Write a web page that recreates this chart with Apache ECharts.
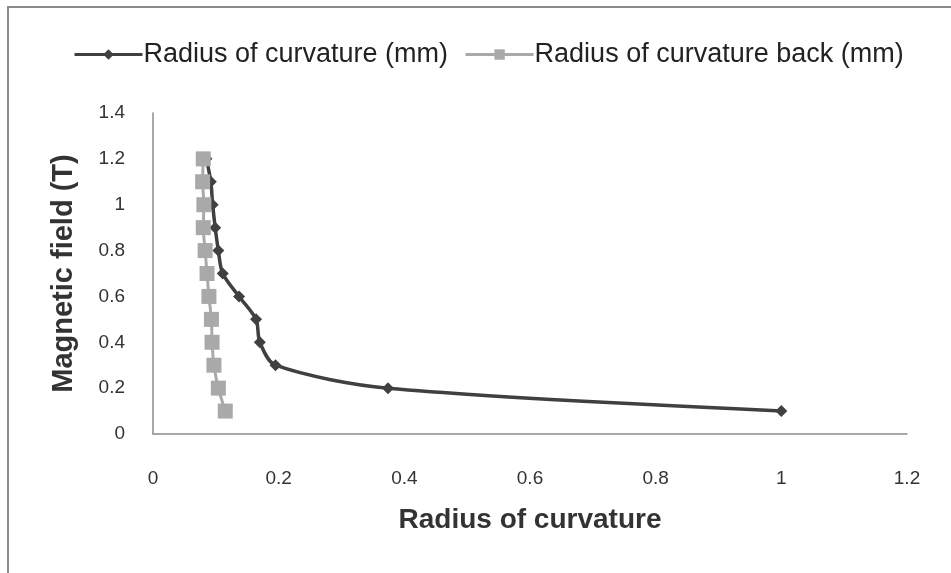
<!DOCTYPE html>
<html>
<head>
<meta charset="utf-8">
<script src="https://cdn.jsdelivr.net/npm/echarts@6/dist/echarts.min.js"></script>
<style>
    html, body { margin: 0; padding: 0; background: #fff; }
    #frame {
        position: absolute; left: 7px; top: 6px; width: 950px; height: 565px;
        border-left: 2px solid #8a8a8a; border-top: 2px solid #8a8a8a; border-bottom: 2px solid #8a8a8a;
    }
    #chart { position: absolute; left: 0; top: 0; width: 951px; height: 573px; }
</style>
</head>
<body>
<div id="frame"></div>
<div id="chart"></div>
<script>
    // magnetic field (T) on the y axis
    var fieldT = [0.1, 0.2, 0.3, 0.4, 0.5, 0.6, 0.7, 0.8, 0.9, 1.0, 1.1, 1.2];
    // radius of curvature (mm) on the x axis
    var radius = [1.0, 0.374, 0.195, 0.170, 0.164, 0.137, 0.111, 0.104, 0.099, 0.095, 0.092, 0.085];
    var radiusBack = [0.115, 0.104, 0.097, 0.094, 0.093, 0.089, 0.086, 0.083, 0.080, 0.081, 0.079, 0.080];
    var seriesNames = ["Radius of curvature (mm)", "Radius of curvature back (mm)"];

    function pairs(xs, ys) {
        var out = [];
        for (var i = 0; i < xs.length; i++) {
            out.push([xs[i], ys[i]]);
        }
        return out;
    }

    var font = "'Liberation Sans', sans-serif";
    var chart = echarts.init(document.getElementById("chart"));
    chart.setOption({
        animation: false,
        textStyle: { fontFamily: font },
        legend: {
            top: 36,
            left: 68,
            itemWidth: 68,
            itemHeight: 13,
            itemGap: 16,
            lineStyle: { width: 3 },
            textStyle: { fontSize: 27, color: "#222", fontFamily: font, padding: [0, 0, 0, -4] },
            data: seriesNames
        },
        grid: { left: 153, right: 44, top: 113, bottom: 139 },
        xAxis: {
            type: "value",
            min: 0, max: 1.2, interval: 0.2,
            name: "Radius of curvature",
            nameLocation: "middle",
            nameGap: 72,
            nameTextStyle: { fontSize: 28, fontWeight: "bold", color: "#333", fontFamily: font },
            axisLine: { show: true, lineStyle: { color: "#8c8c8c", width: 1.5 } },
            axisTick: { show: false },
            splitLine: { show: false },
            axisLabel: { fontSize: 19, color: "#333", margin: 35 }
        },
        yAxis: {
            type: "value",
            min: 0, max: 1.4, interval: 0.2,
            name: "Magnetic field (T)",
            nameLocation: "middle",
            nameGap: 75,
            nameTextStyle: { fontSize: 29, fontWeight: "bold", color: "#333", fontFamily: font },
            axisLine: { show: true, lineStyle: { color: "#8c8c8c", width: 1.5 } },
            axisTick: { show: false },
            splitLine: { show: false },
            axisLabel: { fontSize: 19, color: "#333", margin: 28 }
        },
        series: [
            {
                name: seriesNames[0],
                type: "line",
                smooth: 0.3,
                symbol: "diamond",
                symbolSize: 12,
                itemStyle: { color: "#404040" },
                lineStyle: { color: "#404040", width: 3.5 },
                data: pairs(radius, fieldT)
            },
            {
                name: seriesNames[1],
                type: "line",
                smooth: 0.3,
                symbol: "rect",
                symbolSize: 15,
                itemStyle: { color: "#a9a9a9" },
                lineStyle: { color: "#a9a9a9", width: 3 },
                data: pairs(radiusBack, fieldT)
            }
        ]
    });
</script>
</body>
</html>
